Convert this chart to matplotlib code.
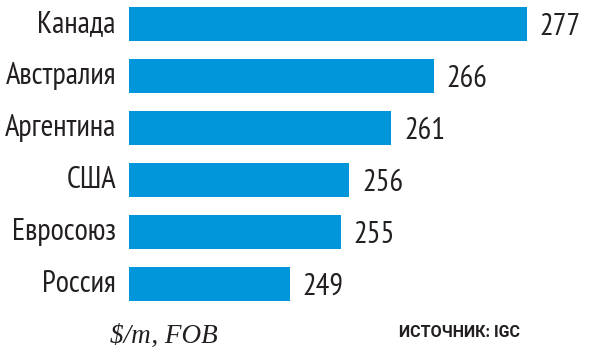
import matplotlib
matplotlib.use("Agg")
import matplotlib.pyplot as plt

countries = ["Канада", "Австралия", "Аргентина", "США", "Евросоюз", "Россия"]
prices = [277, 266, 261, 256, 255, 249]

BLUE = "#0096d9"
INK = "#231f20"
LABEL_FONT = "PT Sans Narrow"

fig = plt.figure(figsize=(6, 3.58), dpi=100)
ax = fig.add_axes([129 / 600, 0, 1 - 129 / 600, 1])

pos = list(range(len(countries)))
ax.barh(pos, prices, height=34 / 52, color=BLUE)

ax.set_xlim(230, 230 + 471 / 8.46)
ax.set_ylim((358 - 24) / 52, -24 / 52)
ax.axis("off")

for i, (name, val) in enumerate(zip(countries, prices)):
    # country name left of bar start
    ax.annotate(name, xy=(230, i), xytext=(-9.4, -5.8), textcoords="offset points",
                ha="right", va="baseline", fontsize=22, color=INK,
                family=LABEL_FONT, annotation_clip=False)
    # value right of bar end
    ax.annotate(str(val), xy=(val, i), xytext=(9.4, -7.9), textcoords="offset points",
                ha="left", va="baseline", fontsize=22, color=INK,
                family=LABEL_FONT, annotation_clip=False)

fig.text(110 / 600, 1 - 343 / 358, "$/т, FOB", fontsize=19.5, style="italic",
         family="Liberation Serif", color=INK, ha="left", va="baseline")
fig.text(520 / 600, 1 - 337 / 358, "ИСТОЧНИК: IGC", fontsize=11.5, weight="bold",
         family="Roboto", color=INK, ha="right", va="baseline")

fig.savefig("out.png", dpi=100)
